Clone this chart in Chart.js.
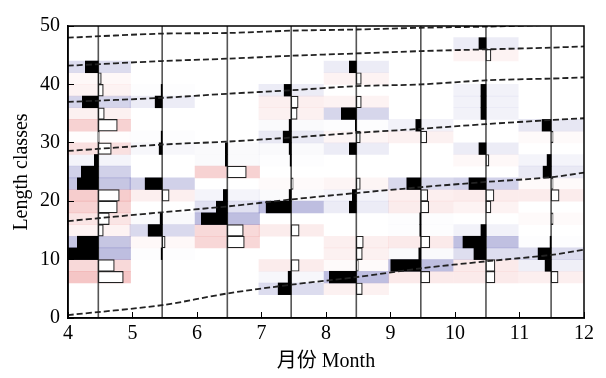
<!DOCTYPE html>
<html>
<head>
<meta charset="utf-8">
<script src="https://cdn.jsdelivr.net/npm/chart.js@4.4.1/dist/chart.umd.min.js"></script>
<style>
  html, body { margin: 0; padding: 0; background: #fff; }
  #chart { display: block; }
</style>
</head>
<body>
<canvas id="chart" width="606" height="378"></canvas>
<script>
// sampling dates (month) and 2 cm length-class midpoints
const sampleMonths = [4.47, 5.46, 6.47, 7.46, 8.47, 9.47, 10.48, 11.49];
const lengthMids = [1, 3, 5, 7, 9, 11, 13, 15, 17, 19, 21, 23, 25, 27, 29, 31, 33, 35, 37, 39, 41, 43, 45, 47, 49];

// restructured counts per sample, classes 0-2 ... 48-50
// (+ peak = black bar to the left, - trough = white bar to the right)
const rcApr = [0, 0, 0, -25, -16, 30, 21, -5, -11, -19, -21, 21, 17, 4, -13, -1, -19, -6, 16, -5, -3, 13, 0, 0, 0];
const rcMay = [0, 0, 0, 0, 0, 1, -3, 14, 2, 0, -7, 17, 0, 0, 3, 1, 0, 0, 7, 1, 0, 0, 0, 0, 0];
const rcJun = [0, 0, 0, 0, 0, 0, -17, -16, 26, 11, 4, 0, -19, 2, 2, 0, 0, 0, 0, 0, 0, 0, 0, 0, 0];
const rcJul = [0, 0, 13, 3, -8, 0, 0, -8, 0, 25, 2, -2, 0, 1, 2, 8, 2, -6, -7, 7, 0, 0, 0, 0, 0];
const rcAug = [0, 0, -6, 27, -2, -6, -7, 0, 0, 7, 4, -4, 0, 0, 7, -4, 1, 15, -5, 0, -5, 7, 0, 0, 0];
const rcSep = [0, 0, 0, -9, 30, 2, -9, 1, 1, -8, -7, 14, 0, 0, 0, -6, 5, 0, 0, 0, 0, 0, 0, 0, 0];
const rcOct = [0, 0, 0, -9, -9, 12, 23, 5, 0, -5, -8, 17, 0, -3, 7, 0, 0, 5, 5, 5, 0, 0, -5, 7, 0];
const rcNov = [0, 0, 0, -7, 6, 13, 1, 0, -2, 0, -8, -2, 8, 4, 0, -2, 9, 0, 0, 0, 0, 0, 0, 0, 0];
const samples = [rcApr, rcMay, rcJun, rcJul, rcAug, rcSep, rcOct, rcNov];

// growth curves (cohorts), read at these months
const curveMonths = [4, 5.46, 6.47, 7.46, 8.47, 9.47, 10.48, 11.49, 12];
const cohort1 = [0.5, 2.2, 4.2, 5.7, 7.0, 8.5, 9.7, 10.8, 11.7];
const cohort2 = [16.6, 18.1, 19.1, 20.3, 21.4, 22.4, 23.3, 24.1, 24.9];
const cohort3 = [28.6, 29.7, 30.2, 30.9, 31.7, 32.4, 33.2, 33.9, 34.2];
const cohort4 = [37.0, 37.7, 38.4, 39.0, 39.7, 40.0, 40.7, 41.0, 41.2];
const cohort5 = [43.2, 44.0, 44.4, 44.9, 45.3, 45.7, 46.0, 46.3, 46.5];
const cohort6 = [48.0, 48.7, 48.8, 49.2, 49.4, 49.7, 49.9, 50.2, 50.4];

const monthTicks = [4, 5, 6, 7, 8, 9, 10, 11, 12];
const lengthTicks = [0, 10, 20, 30, 40, 50];

const barScale = 0.0155; // months per score unit

Chart.defaults.font.family = "'Liberation Serif', 'Times New Roman', 'Noto Sans CJK SC', serif";
Chart.defaults.color = "#000";

function cellColor(v) {
  const a = Math.min(1, Math.abs(v) / 24) * 0.42;
  return v > 0 ? `rgba(100,100,180,${a})` : `rgba(230,120,120,${a})`;
}

const cells = [];
const peaks = [];
const troughs = [];
samples.forEach((rc, i) => {
  const s = sampleMonths[i];
  rc.forEach((v, j) => {
    if (!v) return;
    cells.push({ y: lengthMids[j], x: [s - 0.5, s + 0.5], v: v });
    if (v > 0) peaks.push({ y: lengthMids[j], x: [s - v * barScale, s] });
    else troughs.push({ y: lengthMids[j], x: [s, s - v * barScale] });
  });
});

const barBase = {
  type: "bar",
  indexAxis: "y",
  grouped: false,
  barPercentage: 1,
  categoryPercentage: 1,
  borderSkipped: false
};

const datasets = [
  Object.assign({}, barBase, {
    data: cells,
    backgroundColor: ctx => cellColor(ctx.raw ? ctx.raw.v : 0),
    borderWidth: 0,
    order: 5
  }),
  Object.assign({}, barBase, {
    data: troughs,
    backgroundColor: "#fff",
    borderColor: "#222",
    borderWidth: 1.2,
    order: 3
  }),
  Object.assign({}, barBase, {
    data: peaks,
    backgroundColor: "#000",
    borderWidth: 0,
    order: 2
  })
];

sampleMonths.forEach(s => {
  datasets.push({
    type: "line",
    data: [{ x: s, y: 0 }, { x: s, y: 50 }],
    borderColor: "#555",
    borderWidth: 1.6,
    pointRadius: 0,
    order: 4
  });
});

[cohort1, cohort2, cohort3, cohort4, cohort5, cohort6].forEach(c => {
  datasets.push({
    type: "line",
    data: c.map((y, k) => ({ x: curveMonths[k], y: y })),
    borderColor: "#222",
    borderWidth: 1.8,
    borderDash: [6, 3],
    tension: 0.3,
    pointRadius: 0,
    order: 1
  });
});

const frame = {
  id: "frame",
  afterDatasetsDraw(chart) {
    const { ctx, chartArea: a } = chart;
    ctx.save();
    ctx.strokeStyle = "#000";
    ctx.lineWidth = 1.5;
    ctx.strokeRect(a.left, a.top, a.right - a.left, a.bottom - a.top);
    ctx.restore();
  }
};

new Chart(document.getElementById("chart"), {
  type: "bar",
  data: { datasets: datasets },
  plugins: [frame],
  options: {
    responsive: false,
    animation: false,
    devicePixelRatio: 1,
    layout: { padding: { left: 0, top: 17, right: 22, bottom: 0 } },
    plugins: {
      legend: { display: false },
      tooltip: { enabled: false }
    },
    scales: {
      x: {
        type: "linear",
        position: "bottom",
        min: monthTicks[0],
        max: monthTicks[monthTicks.length - 1],
        offset: false,
        beginAtZero: false,
        afterBuildTicks: s => { s.ticks = monthTicks.map(v => ({ value: v })); },
        afterFit: s => { s.height = 60; },
        ticks: { font: { size: 20 }, padding: 10, maxRotation: 0, autoSkip: false },
        grid: { drawOnChartArea: false, offset: false, tickLength: -6, color: "#000", z: 1 },
        border: { color: "#000", width: 1.5, z: 1 },
        title: { display: true, text: "月份 Month", font: { size: 20 }, padding: { top: 0, bottom: 4 } }
      },
      y: {
        type: "linear",
        position: "left",
        min: lengthTicks[0],
        max: lengthTicks[lengthTicks.length - 1],
        offset: false,
        beginAtZero: false,
        afterBuildTicks: s => { s.ticks = lengthTicks.map(v => ({ value: v })); },
        afterFit: s => { s.width = 68; },
        ticks: { font: { size: 20 }, padding: 14 },
        grid: { drawOnChartArea: false, offset: false, tickLength: -6, color: "#000", z: 1 },
        border: { color: "#000", width: 1.5, z: 1 },
        title: { display: true, text: "Length classes", font: { size: 20 }, padding: { top: 10, bottom: 0 } }
      }
    }
  }
});
</script>
</body>
</html>
